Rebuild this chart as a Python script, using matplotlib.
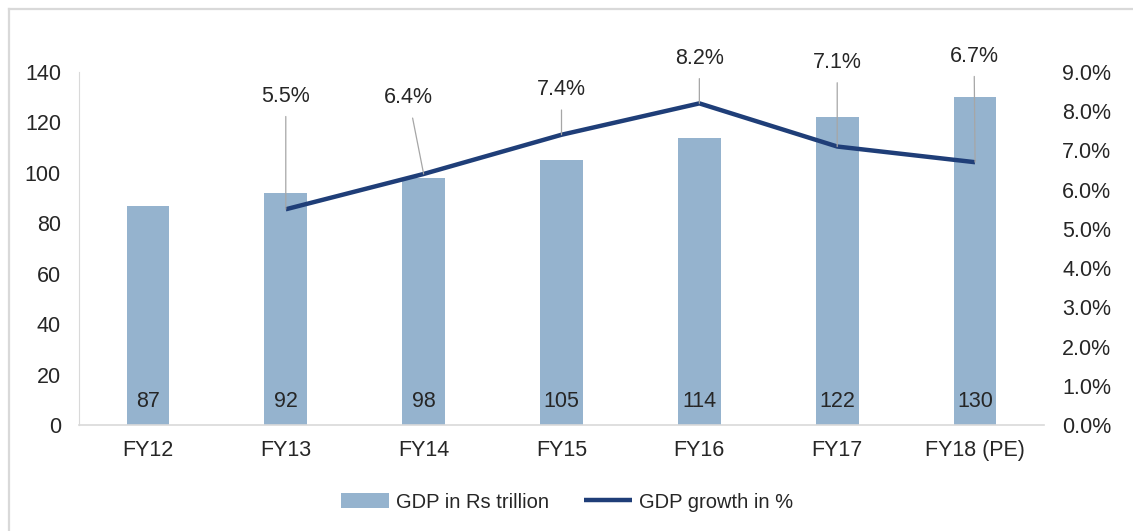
import numpy as np
import matplotlib
matplotlib.use("Agg")
import matplotlib.pyplot as plt
from matplotlib.lines import Line2D

plt.rcParams['font.family'] = ['Liberation Sans', 'DejaVu Sans']

years = ["FY12", "FY13", "FY14", "FY15", "FY16", "FY17", "FY18 (PE)"]
gdp = [87, 92, 98, 105, 114, 122, 130]
growth = [np.nan, 5.5, 6.4, 7.4, 8.2, 7.1, 6.7]

bar_col = "#95b3ce"
line_col = "#1f3e78"
txt_col = "#262626"
grid_col = "#d9d9d9"
fs = 15.5

# label offsets (pixels) for the growth labels
lab_off = [None, (0, 113), (-15, 76), (0, 45), (0, 45), (0, 84), (-1, 106)]

fig = plt.figure(figsize=(11.33, 5.31), dpi=100)
ax = fig.add_axes([79/1133, 1-425/531, (1044-79)/1133, (425-72)/531])
ax2 = ax.twinx()

x = np.arange(len(years))
bars = ax.bar(x, gdp, width=0.31, color=bar_col, label="GDP in Rs trillion", zorder=2)
for xi, v in zip(x, gdp):
    ax.text(xi, 9.5, str(v), ha="center", va="center", fontsize=fs, color=txt_col)

ax.set_ylim(0, 140)
ax.set_yticks(range(0, 141, 20))
ax.set_xlim(-0.5, len(years) - 0.5)
ax.set_xticks(x)
ax.set_xticklabels(years)
ax.tick_params(axis="x", length=0, pad=11, labelsize=fs, labelcolor=txt_col)
ax.tick_params(axis="y", length=0, pad=13, labelsize=fs, labelcolor=txt_col)
for s in ["top", "right"]:
    ax.spines[s].set_visible(False)
ax.spines["left"].set_color(grid_col)
ax.spines["bottom"].set_color(grid_col)
ax.spines["bottom"].set_linewidth(1.2)

ln, = ax2.plot(x, growth, color=line_col, lw=3.2, label="GDP growth in %", zorder=3,
               solid_capstyle="butt")
ax2.set_ylim(0, 9)
ax2.set_yticks(np.arange(0, 9.01, 1))
ax2.set_yticklabels(["%.1f%%" % t for t in np.arange(0, 9.01, 1)])
ax2.tick_params(axis="y", length=0, pad=13, labelsize=fs, labelcolor=txt_col)
for s in ["top", "right", "left", "bottom"]:
    ax2.spines[s].set_visible(False)

for xi, g, off in zip(x, growth, lab_off):
    if off is None:
        continue
    ax2.annotate("%.1f%%" % g, xy=(xi, g), xytext=off, textcoords="offset pixels",
                 ha="center", va="center", fontsize=fs, color=txt_col,
                 arrowprops=dict(arrowstyle="-", color="#a6a6a6", lw=0.9,
                                 shrinkA=5, shrinkB=0))

fig.legend([bars, ln], ["GDP in Rs trillion", "GDP growth in %"],
           loc="center", bbox_to_anchor=(567/1133, 1-502/531), ncol=2,
           frameon=False, fontsize=14.5, handlelength=2.4, handletextpad=0.35,
           columnspacing=1.7, labelcolor=txt_col)

# outer frame
fig.add_artist(Line2D([9/1133, 1], [1-8.5/531, 1-8.5/531], color=grid_col, lw=1.6,
                      transform=fig.transFigure))
fig.add_artist(Line2D([9/1133, 9/1133], [0, 1-8.5/531], color=grid_col, lw=1.6,
                      transform=fig.transFigure))

fig.savefig("out.png", dpi=100)
